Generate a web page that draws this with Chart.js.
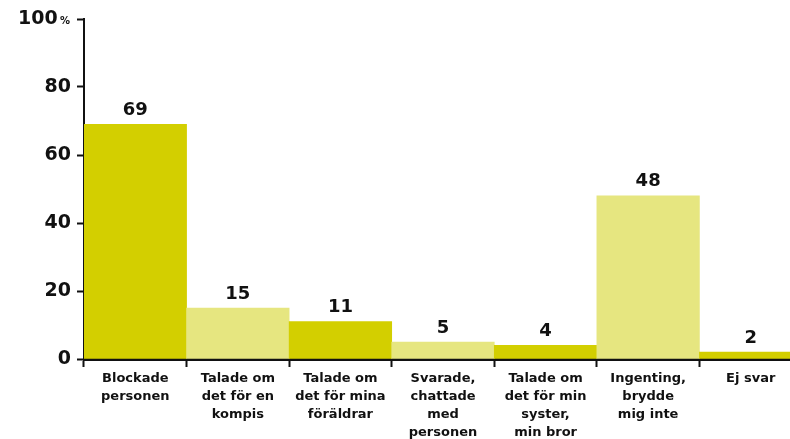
<!DOCTYPE html>
<html>
<head>
<meta charset="utf-8">
<script src="https://cdn.jsdelivr.net/npm/chart.js@4"></script>
<style>
  html, body { margin: 0; padding: 0; background: #fff; overflow: hidden; }
  #box { width: 802px; height: 439px; }
</style>
</head>
<body>
<div id="box"><canvas id="myChart" width="802" height="439"></canvas></div>
<script>
// ---- data ----
const categories = [
  ['Blockade', 'personen'],
  ['Talade om', 'det för en', 'kompis'],
  ['Talade om', 'det för mina', 'föräldrar'],
  ['Svarade,', 'chattade', 'med', 'personen'],
  ['Talade om', 'det för min', 'syster,', 'min bror'],
  ['Ingenting,', 'brydde', 'mig inte'],
  ['Ej svar']
];
const percentages = [69, 15, 11, 5, 4, 48, 2];
const yTicks = [0, 20, 40, 60, 80, 100];

const darkYellow = '#d3cf00';
const lightYellow = '#e6e680';
const barColors = percentages.map((v, i) => i % 2 === 0 ? darkYellow : lightYellow);
const fontFamily = '"DejaVu Sans", Arial, sans-serif';

// values above each bar + the small "%" after 100
const valueLabels = {
  id: 'valueLabels',
  afterDraw(chart) {
    const ctx = chart.ctx;
    const meta = chart.getDatasetMeta(0);
    ctx.save();
    ctx.font = 'bold 18px ' + fontFamily;
    ctx.fillStyle = '#111';
    ctx.textAlign = 'center';
    ctx.textBaseline = 'bottom';
    meta.data.forEach((bar, i) => {
      ctx.fillText(percentages[i], bar.x, bar.y - 5);
    });
    const yScale = chart.scales.y;
    ctx.font = 'bold 10px ' + fontFamily;
    ctx.textAlign = 'right';
    ctx.textBaseline = 'middle';
    ctx.fillText('%', yScale.right - 14, yScale.getPixelForValue(100) + 2);
    ctx.restore();
  }
};

const ctx = document.getElementById('myChart').getContext('2d');
new Chart(ctx, {
  type: 'bar',
  data: {
    labels: categories,
    datasets: [{
      data: percentages,
      backgroundColor: barColors,
      borderWidth: 0,
      categoryPercentage: 1,
      barPercentage: 1
    }]
  },
  options: {
    responsive: false,
    animation: false,
    layout: { padding: { top: 19, right: 0, left: 0, bottom: 0 } },
    plugins: { legend: { display: false }, tooltip: { enabled: false } },
    scales: {
      x: {
        afterFit: (scale) => { scale.height = 80; },
        grid: { offset: true, drawOnChartArea: false, drawTicks: true, tickLength: 8, tickWidth: 2, tickColor: '#111' },
        border: { color: '#111', width: 3 },
        ticks: {
          color: '#111',
          font: { family: fontFamily, weight: 'bold', size: 13, lineHeight: 1.38 },
          padding: 3,
          maxRotation: 0,
          autoSkip: false
        }
      },
      y: {
        min: 0,
        max: 100,
        afterFit: (scale) => { scale.width = 84; },
        afterBuildTicks: (scale) => { scale.ticks = yTicks.map(v => ({ value: v })); },
        grid: { drawOnChartArea: false, tickLength: 7, tickWidth: 2, tickColor: '#111' },
        border: { color: '#111', width: 2 },
        ticks: {
          color: '#111',
          padding: 6,
          font: { family: fontFamily, weight: 'bold', size: 19 },
          callback: (v) => v === 100 ? '100  ' : v
        }
      }
    }
  },
  plugins: [valueLabels]
});
</script>
</body>
</html>
